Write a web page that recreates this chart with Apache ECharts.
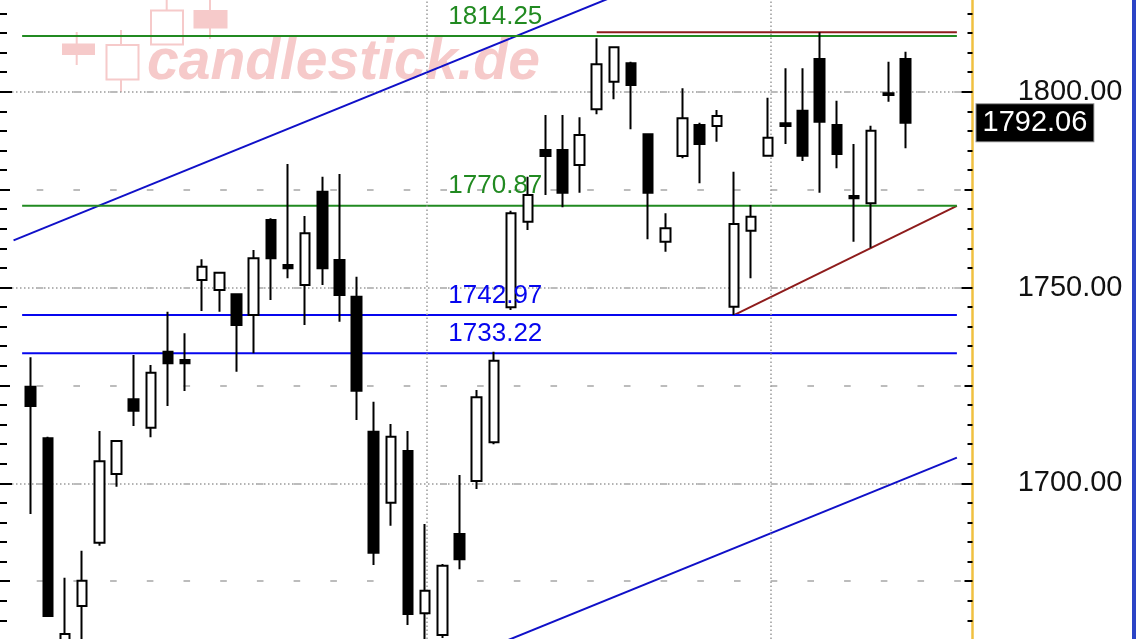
<!DOCTYPE html>
<html><head><meta charset="utf-8">
<script src="https://cdn.jsdelivr.net/npm/echarts@6/dist/echarts.min.js"></script>
<style>html,body{margin:0;padding:0;background:#fff}#c{width:1136px;height:639px}</style>
</head><body><div id="c"></div>
<script>
// ---- data ----
const opens  = [1724.67,1711.49,1658.0,1668.67,1684.83,1702.38,1721.45,1714.2,1733.61,1731.49,
                1751.92,1749.36,1748.26,1742.98,1767.24,1755.75,1750.64,1774.46,1757.02,1747.65,
                1713.18,1695.05,1708.25,1666.8,1661.26,1687.05,1700.59,1710.47,1744.94,1766.8,
                1785.11,1785.11,1781.28,1795.51,1802.55,1807.25,1789.12,1761.7,1783.58,1791.5,
                1791.24,1745.1,1764.5,1783.66,1791.93,1795.15,1808.35,1791.5,1773.37,1771.5,
                1799.16,1808.35];
const closes = [1719.74,1666.11,1661.5,1675.13,1705.62,1710.8,1718.54,1728.24,1730.64,1730.64,
                1755.31,1753.78,1740.42,1757.46,1757.46,1754.9,1763.84,1754.9,1748.08,1723.65,
                1682.28,1711.9,1666.62,1672.57,1678.96,1680.59,1721.96,1731.31,1768.95,1773.62,
                1783.58,1774.21,1788.94,1807.0,1811.34,1801.71,1774.21,1765.12,1793.21,1786.64,
                1793.79,1766.22,1768.08,1788.25,1791.24,1783.66,1792.34,1784.09,1772.78,1790.04,
                1799.59,1792.06];
const lows   = [1692.16,1665.86,1655.0,1658.5,1684.07,1699.13,1714.63,1711.75,1719.74,1723.57,
                1744.0,1743.8,1728.5,1733.2,1746.81,1752.35,1740.42,1750.64,1741.27,1716.16,
                1679.14,1689.17,1663.81,1656.0,1660.5,1678.04,1698.54,1710.0,1744.25,1764.68,
                1773.62,1770.48,1774.21,1794.23,1798.06,1790.4,1762.31,1759.14,1783.0,1776.61,
                1787.23,1742.97,1752.35,1783.6,1786.64,1782.3,1774.21,1780.44,1761.7,1760.14,
                1797.45,1785.55];
const highs  = [1732.18,1711.9,1675.9,1682.79,1713.36,1711.0,1732.76,1730.21,1743.82,1738.3,
                1757.2,1754.0,1748.5,1759.58,1767.7,1781.54,1768.26,1778.29,1778.98,1752.76,
                1720.84,1715.14,1713.36,1689.6,1679.4,1702.12,1723.83,1733.61,1769.6,1778.29,
                1794.05,1794.05,1793.46,1813.64,1811.5,1807.66,1789.4,1768.95,1800.87,1792.1,
                1795.33,1779.57,1771.07,1798.47,1805.98,1805.98,1815.2,1797.7,1786.64,1791.32,
                1807.66,1810.21];
const greenLevels = [1814.25, 1770.87];
const blueLevels  = [1742.97, 1733.22];
const levelSpan   = [-0.5, 54];          // bar positions where the level lines start/end
const levelLabelAt = 24.35;              // bar position of the level labels
const resistanceLine = [[33, 1815.2], [54, 1815.2]];
const supportTrend   = [[41, 1742.97], [54, 1770.87]];
const channelUpper   = [[-1, 1762.05], [54, 1859.93]];
const channelLower   = [[-1, 1608.66], [54, 1706.54]];
const monthMarks     = [23.12, 43.15];
const yRange = [1650, 1850];

// ---- styles ----
const FONT = '"Liberation Sans", Arial, sans-serif';
const GREEN = '#218a21', BLUE = '#0606ee', BROWN = '#8e1c1c', CHAN = '#1010c8', PINK = '#f6caca';

const candleData = opens.map((o, i) => [i, o, closes[i], lows[i], highs[i]]);
const lastClose = closes[closes.length - 1];

function hLine(v, color) {
  return {type: 'line', data: [[levelSpan[0], v], [levelSpan[1], v]], showSymbol: false, silent: true,
    lineStyle: {color, width: 2}, z: 3, animation: false};
}
function segLine(pts, color) {
  return {type: 'line', data: pts, showSymbol: false, silent: true, clip: true,
    lineStyle: {color, width: 2}, z: 3, animation: false};
}
const labelPts = greenLevels.map(v => ({value: [levelLabelAt, v], label: {color: GREEN}}))
  .concat(blueLevels.map(v => ({value: [levelLabelAt, v], label: {color: BLUE}})));

const yCommon = {type: 'value', min: yRange[0], max: yRange[1], gridIndex: 0};
const noLine = {show: false, onZero: false};
const option = {
  animation: false,
  backgroundColor: '#ffffff',
  grid: {left: 0, top: -104.1, width: 972.5, height: 783.2, containLabel: false, outerBoundsMode: 'none'},
  xAxis: {type: 'value', min: -1.79, max: 54.91, show: false, axisLine: {onZero: false}},
  yAxis: [
    Object.assign({}, yCommon, {position: 'right', interval: 50,
      axisLine: {show: true, onZero: false, lineStyle: {color: '#f0c040', width: 2.5}},
      axisTick: {show: true, inside: true, length: 11, lineStyle: {color: '#000', width: 2}},
      axisLabel: {show: true, margin: 150, align: 'right', color: '#111', fontSize: 29, fontFamily: FONT,
        formatter: v => v.toFixed(2)},
      splitLine: {show: true, lineStyle: {color: '#9a9a9a', width: 1.5, type: [1.5, 2.5]}}}),
    Object.assign({}, yCommon, {position: 'right', interval: 25,
      axisLine: noLine,
      axisTick: {show: true, inside: true, length: 8, lineStyle: {color: '#000', width: 2}},
      minorTick: {show: true, splitNumber: 5, length: 5, lineStyle: {color: '#000', width: 2}},
      axisLabel: {show: false},
      splitLine: {show: true, lineStyle: {color: '#bcbcbc', width: 2, type: [6.6, 30.1]}}}),
    Object.assign({}, yCommon, {position: 'left', interval: 50,
      axisLine: noLine,
      axisTick: {show: true, inside: true, length: 12, lineStyle: {color: '#000', width: 2}},
      axisLabel: {show: false}, splitLine: {show: false}}),
    Object.assign({}, yCommon, {position: 'left', interval: 25,
      axisLine: noLine,
      axisTick: {show: true, inside: true, length: 10, lineStyle: {color: '#000', width: 2}},
      minorTick: {show: true, splitNumber: 5, length: 7, lineStyle: {color: '#000', width: 2}},
      axisLabel: {show: false}, splitLine: {show: false}})
  ],
  graphic: {elements: [
    // watermark logo
    {type: 'line', z: -5, shape: {x1: 76.7, y1: 32, x2: 76.7, y2: 65}, style: {stroke: PINK, lineWidth: 2}},
    {type: 'rect', z: -5, shape: {x: 62, y: 43.5, width: 33, height: 11.5}, style: {fill: PINK}},
    {type: 'line', z: -5, shape: {x1: 121, y1: 30, x2: 121, y2: 92}, style: {stroke: PINK, lineWidth: 2}},
    {type: 'rect', z: -5, shape: {x: 106.5, y: 45, width: 32, height: 34.5}, style: {fill: '#fff', stroke: PINK, lineWidth: 2}},
    {type: 'line', z: -5, shape: {x1: 166.7, y1: 0, x2: 166.7, y2: 10}, style: {stroke: PINK, lineWidth: 2}},
    {type: 'rect', z: -5, shape: {x: 151, y: 10.5, width: 32, height: 34}, style: {fill: '#fff', stroke: PINK, lineWidth: 2}},
    {type: 'line', z: -5, shape: {x1: 210, y1: 0, x2: 210, y2: 39}, style: {stroke: PINK, lineWidth: 2}},
    {type: 'rect', z: -5, shape: {x: 193.5, y: 10, width: 34, height: 18.5}, style: {fill: PINK}},
    {type: 'text', z: -5, style: {text: 'candlestick.de', x: 147, y: 63, fill: PINK,
      font: 'italic bold 57px "Liberation Sans", Arial, sans-serif', align: 'left', verticalAlign: 'middle'}},
    // right border
    {type: 'rect', z: 10, shape: {x: 1132, y: 0, width: 4, height: 639}, style: {fill: '#2b44c6'}}
  ]},
  series: [
    {type: 'line', data: monthMarks.map(x => [x, 1750]), showSymbol: false, silent: true, z: 1,
      lineStyle: {opacity: 0}, animation: false,
      markLine: {silent: true, symbol: ['none', 'none'], animation: false, label: {show: false},
        lineStyle: {color: '#9a9a9a', width: 1.5, type: [1.5, 2.5]},
        data: monthMarks.map(x => ({xAxis: x}))}},
    segLine(channelUpper, CHAN),
    segLine(channelLower, CHAN),
    segLine(supportTrend, BROWN),
    segLine(resistanceLine, BROWN),
    ...greenLevels.map(v => hLine(v, GREEN)),
    ...blueLevels.map(v => hLine(v, BLUE)),
    {type: 'candlestick', data: candleData, barWidth: 10, z: 5, silent: true, animation: false,
      itemStyle: {color: '#ffffff', color0: '#000000', borderColor: '#000000', borderColor0: '#000000',
        borderColorDoji: '#000000', borderWidth: 2},
      markLine: {silent: true, symbol: ['none', 'none'], animation: false,
        lineStyle: {color: 'rgba(0,0,0,0)', width: 0},
        label: {show: true, position: 'end', distance: 4, formatter: () => lastClose.toFixed(2),
          color: '#fff', backgroundColor: '#000', borderColor: '#888', borderWidth: 1,
          padding: [4, 6, 4, 6], fontSize: 29, lineHeight: 29, fontFamily: FONT},
        data: [{yAxis: lastClose}]}},
    {type: 'scatter', data: labelPts, symbolSize: 1, silent: true, z: 6, animation: false,
      itemStyle: {color: 'rgba(0,0,0,0)', opacity: 1},
      label: {show: true, position: 'top', align: 'left', distance: 6, fontSize: 26, fontFamily: FONT,
        opacity: 1, formatter: p => p.value[1].toFixed(2)}}
  ]
};
const chart = echarts.init(document.getElementById('c'), null, {renderer: 'canvas'});
chart.setOption(option);
</script>
</body></html>
